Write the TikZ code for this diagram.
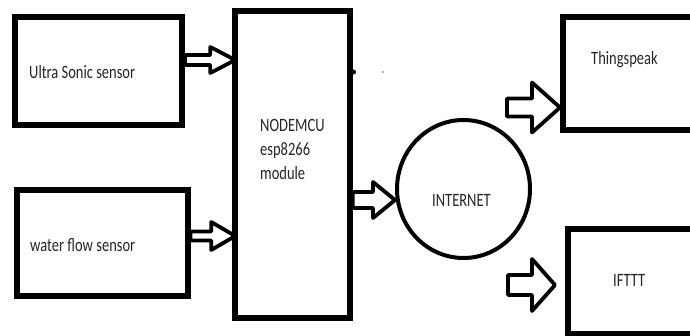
\documentclass[tikz,border=0pt]{standalone}
\usepackage{fontspec}
\setmainfont{Carlito}
\usetikzlibrary{calc,shapes.geometric}
\newcommand{\vtx}[1]{\scalebox{1}[1.3]{#1}}
\tikzset{
  box/.style={draw, line width=6pt, rectangle, inner sep=0pt},
  lbl/.style={anchor=west, inner sep=0pt, font=\fontsize{14.5}{16}\selectfont, text=black!85},
  blk/.style n args={3}{line width=3.8pt, line join=round, fill=white, draw,
    to path={let \p1=(\tikztostart), \p2=(\tikztotarget) in
      (\x1,\y1+#2) -- (\x2-#1,\y1+#2) -- (\x2-#1,\y1+#3) -- (\x2,\y1) --
      (\x2-#1,\y1-#3) -- (\x2-#1,\y1-#2) -- (\x1,\y1-#2) -- cycle}}
}
\begin{document}
\begin{tikzpicture}[x=1pt,y=-1pt]
\useasboundingbox (0,0) rectangle (690,336);
\clip (0,0) rectangle (690,336);
\fill[white] (0,0) rectangle (690,336);
% boxes
\node[box, minimum width=167.5pt, minimum height=108pt] (us) at (98.25,71) {};
\node[box, minimum width=171pt, minimum height=106pt] (wf) at (102,243) {};
\node[box, line width=5.5pt, minimum width=115pt, minimum height=307pt] (mcu) at (292.5,164.5) {};
\node[draw, ellipse, line width=4pt, inner sep=0pt, minimum width=133pt, minimum height=138pt] (inet) at (463.5,189) {};
\node[box, minimum width=157pt, minimum height=113pt] (ts) at (641.5,73.5) {};
\node[box, minimum width=152pt, minimum height=105pt] (if) at (644,281.5) {};
% texts
\node[lbl] (tus) at (29,72) {\vtx{Ultra Sonic sensor}};
\node[lbl] (twf) at (30,245) {\vtx{water flow sensor}};
\node[lbl] (tmcu) at (260,151) {\vtx{\begin{tabular}{@{}l@{}}NODEMCU\\[2.5pt]esp8266\\[2.5pt]module\end{tabular}}};
\node[lbl] (tin) at (432,200) {\vtx{INTERNET}};
\node[lbl] (tts) at (591,60) {\vtx{Thingspeak}};
\node[lbl] (tif) at (613,280) {\vtx{IFTTT}};
% free arrow starts
\coordinate (ts0) at (507,107.5);
\coordinate (if0) at (508,285);
% block arrows
\draw[blk={25pt}{5pt}{13pt}] ([yshift=11pt]us.east) to ([xshift=3pt]mcu.west);
\draw[blk={24pt}{4.5pt}{14pt}] ([yshift=7pt]wf.east) to ([xshift=3pt]mcu.west);
\draw[blk={22pt}{8pt}{18pt}] ([yshift=-35.5pt]mcu.east) to (inet.west);
\draw[blk={28pt}{9pt}{25pt}] (ts0) to (ts.west);
\draw[blk={23pt}{10pt}{26pt}] (if0) to ([xshift=-10pt]if.west);
% stray dots
\fill (353.5,72) circle (2.5pt);
\fill[black!60] (383,72) circle (0.8pt);
\end{tikzpicture}
\end{document}
